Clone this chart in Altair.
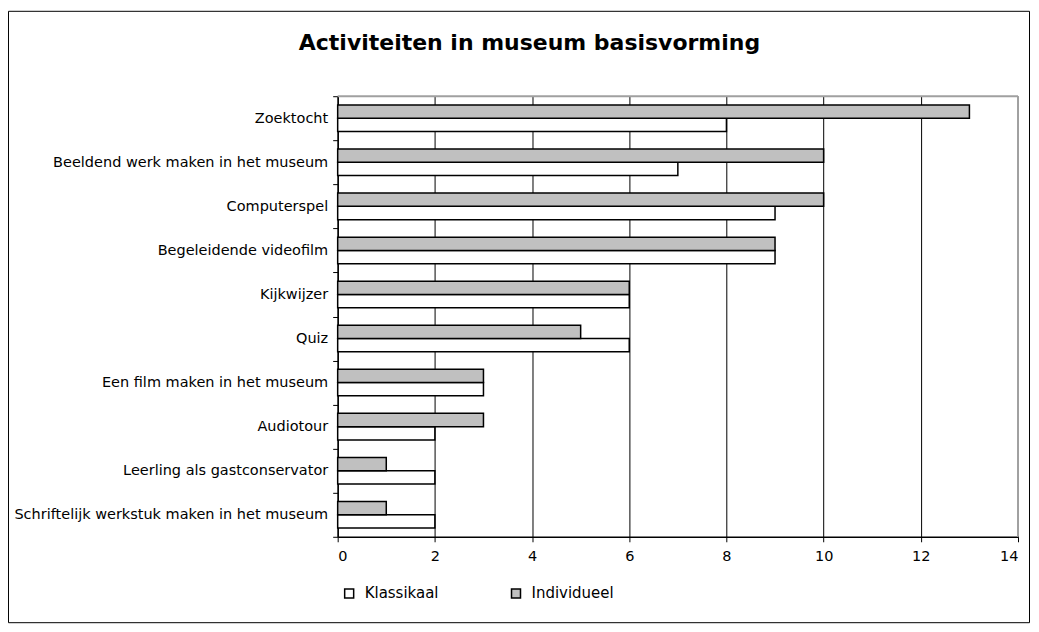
import altair as alt
import pandas as pd

categories = [
    "Zoektocht",
    "Beeldend werk maken in het museum",
    "Computerspel",
    "Begeleidende videofilm",
    "Kijkwijzer",
    "Quiz",
    "Een film maken in het museum",
    "Audiotour",
    "Leerling als gastconservator",
    "Schriftelijk werkstuk maken in het museum",
]
individueel = [13, 10, 10, 9, 6, 5, 3, 3, 1, 1]
klassikaal = [8, 7, 9, 9, 6, 6, 3, 2, 2, 2]
series = ["Klassikaal", "Individueel"]
x_ticks = [0, 2, 4, 6, 8, 10, 12, 14]
title_text = "Activiteiten in museum basisvorming"

rows = []
for c, k, i in zip(categories, klassikaal, individueel):
    rows.append({"activiteit": c, "type": "Klassikaal", "aantal": k})
    rows.append({"activiteit": c, "type": "Individueel", "aantal": i})
df = pd.DataFrame(rows)
one = pd.DataFrame({"a": [0]})

FONT = "DejaVu Sans"
FS = 14.5
W, H = 681, 441

bars = alt.Chart(df).mark_bar(stroke="black", strokeWidth=1.5).encode(
    x=alt.X(
        "aantal:Q",
        scale=alt.Scale(domain=[0, 14], nice=False),
        axis=alt.Axis(
            values=x_ticks, title=None, grid=True, gridColor="black", gridWidth=1,
            gridOpacity=1, domainColor="black", domainWidth=1.5, tickColor="black",
            tickSize=5, labelFontSize=FS, labelFont=FONT, labelColor="black",
            labelPadding=8, format="d",
        ),
    ),
    y=alt.Y(
        "activiteit:N",
        sort=categories,
        scale=alt.Scale(paddingInner=0, paddingOuter=0),
        axis=alt.Axis(
            title=None, tickBand="extent", domainColor="black", domainWidth=1.5,
            tickColor="black", tickSize=5, labelFontSize=FS, labelFont=FONT,
            labelColor="black", labelPadding=5, labelLimit=400, grid=False,
        ),
    ),
    yOffset=alt.YOffset(
        "type:N",
        sort=["Individueel", "Klassikaal"],
        scale=alt.Scale(paddingInner=0, paddingOuter=0.66),
    ),
    color=alt.Color(
        "type:N",
        scale=alt.Scale(domain=series, range=["#FFFFFF", "#C0C0C0"]),
        legend=alt.Legend(
            orient="none", legendX=4, legendY=490, direction="horizontal",
            title=None, symbolType="square", symbolSize=81,
            symbolStrokeColor="black", symbolStrokeWidth=1.5,
            labelFontSize=15, labelFont=FONT, labelColor="black",
            labelOffset=8, columnPadding=70, padding=0,
        ),
    ),
)

top_rule = alt.Chart(one).mark_rule(color="#A0A0A0", strokeWidth=2).encode(
    x=alt.value(0), x2=alt.value(W), y=alt.value(0)
)
right_rule = alt.Chart(one).mark_rule(color="#A0A0A0", strokeWidth=2).encode(
    x=alt.value(W), y=alt.value(0), y2=alt.value(H)
)
border = alt.Chart(one).mark_rect(filled=False, stroke="black", strokeWidth=1).encode(
    x=alt.value(-329.5), x2=alt.value(692.5), y=alt.value(-85), y2=alt.value(527)
)
title = alt.Chart(one).mark_text(
    text=title_text, font=FONT, fontSize=22, fontWeight="bold", color="black",
    align="center", baseline="alphabetic",
).encode(x=alt.value(192), y=alt.value(-46))

chart = alt.layer(border, bars, top_rule, right_rule, title).properties(
    width=W,
    height=H,
    padding={"left": 330, "top": 88, "right": 13, "bottom": 88},
    autosize=alt.AutoSizeParams(type="none"),
    background="white",
).configure_view(strokeWidth=0)

chart.save("out.html", embed_options={"renderer": "svg", "actions": False})
